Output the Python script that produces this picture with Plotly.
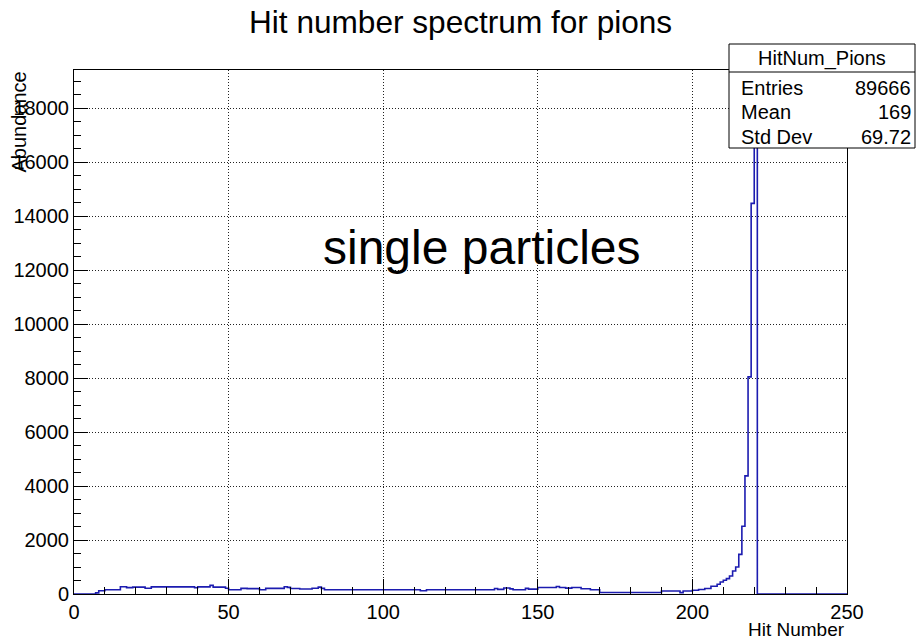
import plotly.graph_objects as go

# Histogram definition: 250 bins of width 1 from 0 to 250
x_min, x_max = 0, 250

counts = [
    0, 0, 0, 0, 0, 0, 0, 40, 120, 120,                      # 0-9
    160, 160, 160, 160, 160, 270, 270, 235, 235, 255,       # 10-19
    255, 255, 255, 215, 215, 265, 265, 265, 265, 265,       # 20-29
    265, 265, 265, 265, 265, 265, 265, 265, 265, 230,       # 30-39
    265, 265, 265, 265, 320, 255, 255, 255, 255, 215,       # 40-49
    160, 160, 160, 160, 210, 210, 200, 200, 200, 200,       # 50-59
    160, 160, 210, 210, 210, 210, 210, 210, 270, 245,       # 60-69
    205, 205, 205, 185, 185, 185, 185, 215, 215, 255,       # 70-79
    210, 160, 160, 160, 160, 160, 160, 160, 160, 160,       # 80-89
    160, 160, 160, 160, 160, 160, 160, 160, 160, 160,       # 90-99
    158, 158, 158, 158, 158, 158, 158, 158, 158, 158,       # 100-109
    158, 158, 118, 118, 158, 158, 158, 158, 158, 158,       # 110-119
    158, 158, 158, 158, 158, 158, 158, 158, 158, 158,       # 120-129
    158, 158, 158, 158, 158, 158, 204, 170, 170, 220,       # 130-139
    220, 190, 158, 158, 158, 158, 210, 180, 180, 180,       # 140-149
    241, 241, 241, 241, 241, 241, 278, 241, 241, 216,       # 150-159
    216, 241, 241, 241, 195, 195, 195, 158, 158, 158,       # 160-169
    57, 57, 57, 57, 57, 57, 57, 57, 57, 57,                 # 170-179
    57, 57, 57, 57, 57, 57, 57, 57, 57, 57,                 # 180-189
    110, 110, 110, 110, 110, 110, 50, 110, 110, 110,        # 190-199
    140, 140, 165, 165, 205, 205, 285, 285, 360, 445,       # 200-209
    510, 570, 670, 850, 1000, 1470, 2510, 4380, 8050, 14480,  # 210-219
    18500, 0, 0, 0, 0, 0, 0, 0, 0, 0,                       # 220-229
    0, 0, 0, 0, 0, 0, 0, 0, 0, 0,                           # 230-239
    0, 0, 0, 0, 0, 0, 0, 0, 0, 0,                           # 240-249
]

stats_name = "HitNum_Pions"
stats_rows = [("Entries", "89666"), ("Mean", "169"), ("Std Dev", "69.72")]

title_text = "Hit number spectrum for pions"
x_title = "Hit Number"
y_title = "Abundance"
note_text = "single particles"

FONT = "Liberation Sans, Arial, Helvetica, sans-serif"
LINE_COLOR = "#1c1cb0"

# Figure geometry (pixels)
W, H = 922, 640
L, R, T, B = 74, 75, 70, 46
PW, PH = W - L - R, H - T - B


def px_x(p):
    return (p - L) / PW


def px_y(q):
    return (H - B - q) / PH


n_bins = len(counts)
bin_w = (x_max - x_min) / n_bins
edges = [x_min + i * bin_w for i in range(n_bins + 1)]

# step outline: each bin's left edge carries its content, closing point at x_max
xs = edges
ys = counts + [counts[-1]]

fig = go.Figure()
fig.add_trace(go.Scatter(
    x=xs, y=ys, mode="lines", line=dict(shape="hv", color=LINE_COLOR, width=1.6),
    hoverinfo="skip", showlegend=False,
))

y_top = max(counts) * 1.05

axis_common = dict(
    showline=True, linecolor="black", linewidth=1, mirror=True,
    ticks="inside", tickcolor="black", tickwidth=1,
    showgrid=True, gridcolor="#222222", gridwidth=1, griddash="1px,2px",
    zeroline=False,
    tickfont=dict(family=FONT, size=20, color="black"),
)

fig.update_xaxes(
    range=[x_min, x_max], dtick=50, tick0=0, ticklen=15,
    minor=dict(dtick=10, ticklen=7, ticks="inside", tickcolor="black", showgrid=False),
    **axis_common,
)
fig.update_yaxes(
    range=[0, y_top], dtick=2000, tick0=0, ticklen=14, tickformat="d",
    minor=dict(dtick=500, ticklen=7, ticks="inside", tickcolor="black", showgrid=False),
    **axis_common,
)

annotations = [
    dict(text=title_text, x=0.5, xref="paper", y=px_y(22), yref="paper",
         xanchor="center", yanchor="middle", showarrow=False,
         font=dict(family=FONT, size=31.6, color="black")),
    dict(text=x_title, x=px_x(846), xref="paper", y=px_y(641), yref="paper",
         xanchor="right", yanchor="bottom", showarrow=False, borderpad=0,
         font=dict(family=FONT, size=19, color="black")),
    dict(text=y_title, x=px_x(18), xref="paper", y=1.0, yref="paper",
         xanchor="center", yanchor="top", textangle=-90, showarrow=False,
         font=dict(family=FONT, size=20, color="black")),
    dict(text=note_text, x=px_x(481), xref="paper", y=px_y(248), yref="paper",
         xanchor="center", yanchor="middle", showarrow=False,
         font=dict(family=FONT, size=48, color="black")),
]

# statistics box in the top-right corner
bx0, bx1, by0, by1, bsep = 729, 915, 44, 148, 72
shapes = [
    dict(type="rect", xref="paper", yref="paper", layer="above",
         x0=px_x(bx0), x1=px_x(bx1), y0=px_y(by1), y1=px_y(by0),
         fillcolor="white", line=dict(color="black", width=1)),
    dict(type="line", xref="paper", yref="paper", layer="above",
         x0=px_x(bx0), x1=px_x(bx1), y0=px_y(bsep), y1=px_y(bsep),
         line=dict(color="black", width=1)),
]
annotations.append(dict(
    text=stats_name, x=px_x((bx0 + bx1) / 2), xref="paper", y=px_y(59), yref="paper",
    xanchor="center", yanchor="middle", showarrow=False,
    font=dict(family=FONT, size=20, color="black")))
row_y = [88, 112, 137]
for (label, value), ry in zip(stats_rows, row_y):
    annotations.append(dict(
        text=label, x=px_x(739), xref="paper", y=px_y(ry), yref="paper",
        xanchor="left", yanchor="middle", showarrow=False,
        font=dict(family=FONT, size=20, color="black")))
    annotations.append(dict(
        text=value, x=px_x(913), xref="paper", y=px_y(ry), yref="paper",
        xanchor="right", yanchor="middle", showarrow=False,
        font=dict(family=FONT, size=20, color="black")))

fig.update_layout(
    width=W, height=H,
    margin=dict(l=L, r=R, t=T, b=B, pad=0),
    paper_bgcolor="white", plot_bgcolor="white",
    annotations=annotations, shapes=shapes,
    font=dict(family=FONT, color="black"),
    showlegend=False,
)

fig.write_html("out.html")
